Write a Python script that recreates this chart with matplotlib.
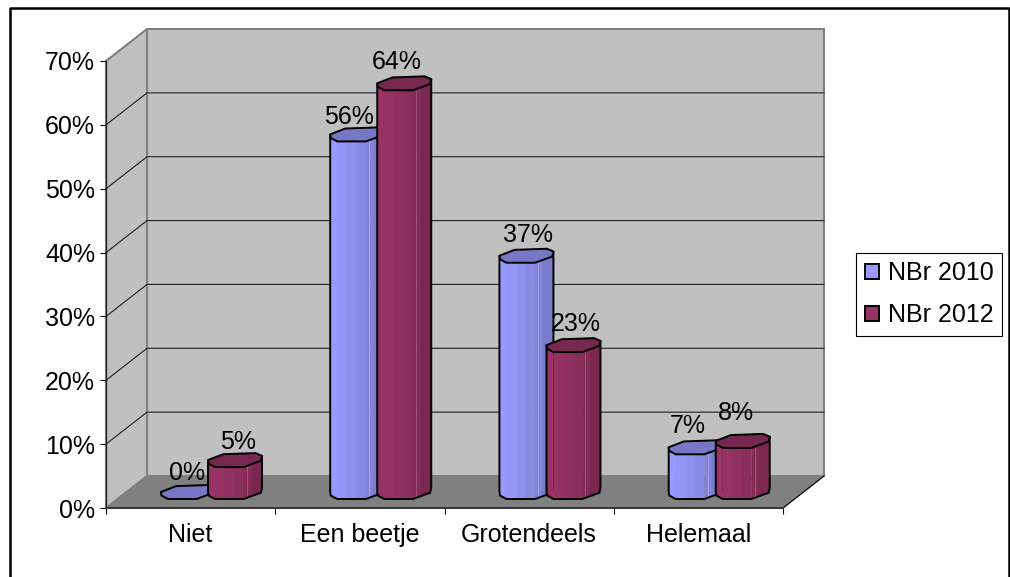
import matplotlib
matplotlib.use('Agg')
import matplotlib.pyplot as plt
from matplotlib.lines import Line2D
from matplotlib.patches import Patch, Polygon
import numpy as np

plt.rcParams['font.family'] = ['Liberation Sans', 'DejaVu Sans']

categories = ['Niet', 'Een beetje', 'Grotendeels', 'Helemaal']
series_names = ['NBr 2010', 'NBr 2012']
nbr_2010 = [0, 56, 37, 7]
nbr_2012 = [5, 64, 23, 8]
yticks = [0, 10, 20, 30, 40, 50, 60, 70]

# label nudges in pixels, the labels are not placed very regularly in the original
nudge_2010 = [(-1, -2), (-8, -4), (2, 0), (-8, 0)]
nudge_2012 = [(3, -3), (-7, 0), (2, 0), (-7, 7)]

W, H = 1010, 577
X0, X1, Y0, Y1 = 106, 783, 508, 61  # front plane in pixels
DX = 41 / ((X1 - X0) / 4)  # depth of the box in data units
DY = 32 / ((Y0 - Y1) / 70)

BAR_W = 54 / ((X1 - X0) / 4)
BAR_D = 14 / ((Y0 - Y1) / 70)
OFFSETS = [0.363, 0.641]

# octagon seen from above, 0..1 across and 0(back)..1(front)
TOP_X = [0, 0.28, 0.88, 1, 0.98, 0.66, 0.13, 0.01]
TOP_Y = [0.5, 0.08, 0, 0.2, 0.55, 1, 1, 0.75]
FRONT_X = [0, 0.01, 0.13, 0.66, 0.98, 1]
FRONT_Y = [0.5, 0.75, 1, 1, 0.55, 0.2]
STOPS = [0, 0.13, 0.32, 0.5, 0.66, 0.8, 0.98, 1]

BLUE = ['#9999ff', '#9595f7', '#8f8fec', '#8989e1', '#8383d8', '#7b7bcc', '#7070bb']
RED = ['#993366', '#953263', '#8f305f', '#8a2e5b', '#842c57', '#7a2850', '#6e2448']
TOP_COL = ['#7777c6', '#772850']
SHEEN = ['#a5a5ee', '#a8588a']


def draw_bar(ax, x, value, face, top_col, sheen, z):
    left = x + DX / 2 - BAR_W / 2
    base = DY / 2 + BAR_D / 2
    tx = left + np.array(TOP_X) * BAR_W
    ty = value + base - np.array(TOP_Y) * BAR_D
    if value > 0:
        for i in range(len(STOPS) - 1):
            xs = np.linspace(STOPS[i], STOPS[i + 1], 4)
            low = np.interp(xs, FRONT_X, FRONT_Y)
            px = left + xs * BAR_W
            py_top = value + base - low * BAR_D
            py_bot = base - low * BAR_D
            pts = list(zip(px, py_bot)) + list(zip(px[::-1], py_top[::-1]))
            ax.add_patch(Polygon(pts, fc=face[i], ec=face[i], lw=0.3, zorder=z, clip_on=False))
        # thin light line on the round side
        ax.plot([left + 0.72 * BAR_W] * 2, [base - 0.9 * BAR_D, value + base - 0.9 * BAR_D],
                color=sheen, lw=0.6, zorder=z + 0.05, clip_on=False)
        # outline of the body
        xs = np.array(FRONT_X)
        bx = left + xs * BAR_W
        by = base - np.array(FRONT_Y) * BAR_D
        outline = [(bx[0], value + base - 0.5 * BAR_D)] + list(zip(bx, by)) + [(bx[-1], value + base - 0.2 * BAR_D)]
        ax.add_patch(Polygon(outline, fill=False, ec='black', lw=1.4, closed=False, zorder=z + 0.1, clip_on=False))
    ax.add_patch(Polygon(list(zip(tx, ty)), fc=top_col, ec='black', lw=1.4, zorder=z + 0.2, clip_on=False))


fig = plt.figure(figsize=(W / 100, H / 100), dpi=100, facecolor='white')
ax = fig.add_axes([X0 / W, (H - Y0) / H, (X1 - X0) / W, (Y0 - Y1) / H])
ax.set_xlim(0, 4)
ax.set_ylim(0, 70)
ax.patch.set_visible(False)

# walls and floor
ax.add_patch(Polygon([(DX, DY), (4 + DX, DY), (4 + DX, 70 + DY), (DX, 70 + DY)],
                     fc='#c0c0c0', ec='#808080', lw=1.5, zorder=1, clip_on=False))
ax.add_patch(Polygon([(0, 0), (DX, DY), (DX, 70 + DY), (0, 70)],
                     fc='#c0c0c0', ec='#808080', lw=1.5, zorder=1, clip_on=False))
ax.add_patch(Polygon([(0, 0), (DX, DY), (4 + DX, DY), (4, 0)],
                     fc='#808080', ec='#808080', lw=1, zorder=1.1, clip_on=False))

for v in yticks[1:-1]:
    ax.plot([0, DX, 4 + DX], [v, v + DY, v + DY], color='#202020', lw=0.8, zorder=1.5, clip_on=False)
ax.plot([4, 4 + DX], [0, DY], color='black', lw=0.8, zorder=1.5, clip_on=False)

for i in range(len(categories)):
    for s, values in enumerate([nbr_2010, nbr_2012]):
        face = BLUE if s == 0 else RED
        draw_bar(ax, i + OFFSETS[s], values[i], face, TOP_COL[s], SHEEN[s], 3 + s)
        nudge = (nudge_2010 if s == 0 else nudge_2012)[i]
        ax.annotate(f'{values[i]}%', (i + OFFSETS[s] + DX / 2, values[i] + DY / 2),
                    xytext=(nudge[0] * 0.72, (21 + nudge[1]) * 0.72), textcoords='offset points',
                    ha='center', va='center', fontsize=18, color='black', zorder=6)

for side in ['top', 'right']:
    ax.spines[side].set_visible(False)
ax.spines['left'].set_linewidth(0.9)
ax.spines['left'].set_color('#202020')
ax.spines['bottom'].set_linewidth(1.3)
ax.spines['bottom'].set_color('#303030')
ax.spines['left'].set_zorder(2)
ax.spines['bottom'].set_zorder(2)

ax.set_yticks(yticks)
ax.set_yticklabels([f'{v}%' for v in yticks], fontsize=18)
ax.tick_params(axis='y', length=4.3, width=0.8, pad=3.5)
ax.set_xticks(range(len(categories) + 1))
ax.set_xticklabels([])
ax.tick_params(axis='x', which='major', length=4.3, width=0.8)
ax.set_xticks(np.arange(len(categories)) + 0.5, minor=True)
ax.set_xticklabels(categories, minor=True, fontsize=18)
ax.tick_params(axis='x', which='minor', length=0, pad=11)

handles = [Patch(fc=BLUE[0], ec='black', lw=1.4), Patch(fc=RED[0], ec='black', lw=1.4)]
leg = fig.legend(handles, series_names, loc='upper left',
                 bbox_to_anchor=(856 / W, (H - 253) / H), borderaxespad=0,
                 fontsize=18, frameon=True, fancybox=False, edgecolor='black', framealpha=1,
                 handlelength=0.56, handleheight=0.56, handletextpad=0.36,
                 borderpad=0.34, labelspacing=0.72)
leg.get_frame().set_linewidth(0.8)

# border of the pasted chart, open at the bottom
fig.add_artist(Line2D([10 / W, 10 / W, 1008.5 / W, 1008.5 / W],
                      [0, (H - 8) / H, (H - 8) / H, 0], color='black', lw=1.8))

fig.savefig('out.png', dpi=100)
